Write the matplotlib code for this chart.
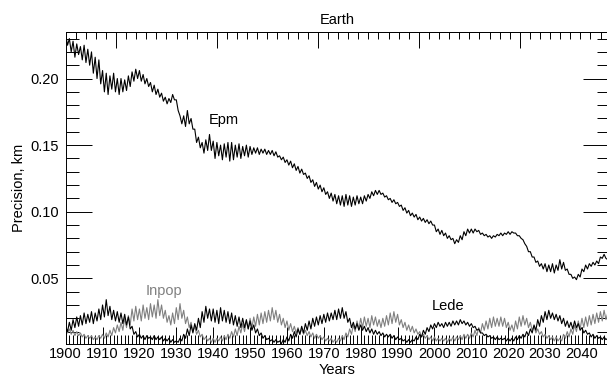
import numpy as np
import matplotlib.pyplot as plt
from matplotlib.ticker import MultipleLocator, NullFormatter

plt.rcParams['font.family'] = ['Liberation Sans', 'DejaVu Sans']
plt.rcParams['font.size'] = 10.5

# --- Dane, co pol roku, w metrach ---
years = np.arange(1900, 2047.01, 0.5)

epm_m = [
    233, 225, 230, 220, 228, 216, 226, 218, 224, 214,
    225, 212, 222, 210, 220, 204, 216, 200, 214, 196,
    206, 190, 204, 188, 202, 192, 204, 190, 200, 188,
    200, 190, 199, 191, 202, 194, 205, 198, 207, 200,
    206, 198, 203, 196, 200, 194, 197, 190, 195, 188,
    192, 186, 189, 183, 186, 181, 185, 182, 188, 184,
    184, 176, 172, 166, 172, 164, 176, 166, 170, 162,
    162, 152, 156, 148, 152, 144, 154, 146, 158, 146,
    153, 140, 152, 142, 150, 139, 151, 141, 152, 138,
    152, 139, 150, 141, 151, 140, 149, 142, 150, 141,
    149, 143, 148, 144, 148, 143, 147, 144, 147, 143,
    146, 143, 146, 142, 145, 141, 142, 139, 141, 137,
    139, 135, 138, 133, 136, 131, 134, 129, 132, 128,
    129, 125, 127, 122, 124, 119, 122, 117, 120, 115,
    118, 113, 115, 110, 114, 108, 113, 106, 112, 105,
    112, 104, 113, 105, 112, 104, 111, 105, 112, 106,
    111, 106, 112, 108, 113, 110, 115, 112, 116, 113,
    116, 113, 114, 111, 112, 109, 110, 107, 109, 106,
    107, 104, 105, 101, 103, 99, 101, 97, 99, 96,
    98, 94, 96, 93, 95, 92, 94, 91, 93, 90,
    90, 85, 87, 83, 86, 82, 84, 80, 82, 79,
    80, 76, 79, 77, 82, 79, 85, 82, 87, 84,
    87, 84, 87, 85, 86, 83, 84, 82, 83, 81,
    82, 80, 82, 81, 83, 82, 84, 82, 84, 83,
    85, 83, 85, 84, 84, 82, 82, 80, 79, 76,
    74, 70, 70, 66, 66, 62, 63, 59, 61, 57,
    61, 55, 60, 55, 61, 54, 60, 56, 64, 57,
    62, 56, 57, 53, 53, 50, 51, 49, 53, 51,
    57, 55, 60, 57, 61, 59, 62, 60, 63, 61,
    66, 65, 68, 65, 64,
]

lede_m = [
    14, 10, 17, 11, 19, 13, 21, 14, 22, 15,
    24, 16, 23, 17, 25, 16, 24, 18, 27, 19,
    30, 21, 34, 22, 29, 19, 26, 18, 25, 17,
    24, 16, 23, 15, 21, 12, 14, 8, 10, 6,
    8, 5, 7, 4, 7, 5, 6, 4, 7, 4,
    6, 4, 6, 3, 5, 3, 5, 2, 4, 2,
    3, 2, 5, 3, 8, 5, 12, 7, 15, 9,
    16, 11, 20, 13, 25, 17, 29, 20, 27, 18,
    27, 17, 26, 16, 28, 18, 26, 17, 25, 16,
    24, 15, 22, 14, 21, 13, 20, 13, 19, 12,
    18, 11, 15, 9, 12, 7, 9, 5, 7, 4,
    5, 3, 4, 2, 4, 2, 3, 1, 4, 2,
    6, 3, 8, 5, 10, 6, 12, 8, 14, 9,
    16, 11, 18, 12, 20, 14, 21, 15, 22, 16,
    23, 17, 24, 18, 24, 19, 26, 19, 27, 20,
    28, 20, 25, 17, 20, 13, 17, 12, 16, 11,
    15, 11, 14, 10, 13, 9, 12, 8, 11, 8,
    10, 7, 9, 6, 8, 6, 8, 5, 7, 4,
    6, 4, 5, 3, 4, 2, 4, 2, 4, 3,
    6, 4, 8, 6, 11, 8, 13, 10, 15, 12,
    16, 13, 17, 14, 16, 13, 17, 14, 17, 14,
    18, 15, 18, 15, 19, 16, 18, 15, 17, 14,
    16, 13, 14, 11, 12, 9, 9, 7, 8, 6,
    7, 5, 6, 4, 6, 4, 5, 4, 5, 3,
    5, 3, 5, 3, 6, 4, 7, 5, 8, 6,
    10, 7, 12, 9, 15, 11, 19, 14, 22, 17,
    25, 19, 26, 20, 24, 19, 23, 18, 22, 16,
    20, 14, 18, 13, 17, 12, 18, 13, 16, 11,
    13, 9, 11, 8, 9, 6, 8, 5, 7, 5,
    6, 4, 6, 4, 5,
]

inpop_m = [
    13, 9, 12, 8, 11, 7, 10, 7, 9, 6,
    8, 5, 7, 5, 7, 4, 6, 4, 7, 5,
    8, 5, 9, 6, 11, 7, 13, 9, 15, 10,
    17, 11, 20, 13, 22, 15, 27, 18, 29, 19,
    27, 18, 30, 20, 28, 19, 31, 21, 30, 20,
    34, 22, 30, 20, 26, 17, 22, 15, 24, 16,
    28, 19, 31, 20, 26, 16, 21, 13, 17, 10,
    14, 8, 11, 6, 8, 4, 6, 3, 5, 2,
    5, 2, 5, 3, 6, 3, 7, 4, 8, 5,
    10, 6, 12, 7, 14, 9, 16, 10, 18, 12,
    20, 13, 21, 14, 23, 15, 24, 16, 25, 17,
    26, 18, 28, 19, 26, 17, 23, 15, 20, 13,
    18, 11, 16, 10, 14, 9, 13, 8, 12, 8,
    11, 7, 10, 6, 9, 5, 8, 5, 7, 4,
    6, 3, 5, 3, 5, 2, 4, 2, 5, 3,
    7, 4, 9, 6, 12, 8, 15, 10, 18, 12,
    20, 13, 21, 14, 20, 13, 22, 15, 21, 14,
    19, 13, 20, 14, 22, 15, 24, 16, 25, 17,
    23, 15, 19, 13, 17, 11, 15, 10, 14, 9,
    12, 8, 10, 6, 8, 5, 7, 4, 6, 3,
    6, 3, 5, 3, 5, 3, 5, 2, 5, 3,
    6, 3, 6, 4, 7, 4, 8, 5, 8, 5,
    9, 6, 11, 7, 13, 9, 16, 11, 18, 12,
    20, 13, 21, 14, 20, 14, 21, 14, 20, 13,
    17, 11, 15, 10, 18, 12, 21, 14, 22, 15,
    20, 13, 17, 11, 14, 9, 12, 8, 10, 6,
    8, 5, 7, 4, 6, 3, 6, 3, 5, 3,
    8, 5, 10, 6, 12, 8, 15, 10, 18, 12,
    20, 13, 21, 14, 22, 15, 23, 16, 24, 17,
    25, 18, 26, 19, 24,
]

# metry -> km
epm = np.array(epm_m) / 1000.0
lede = np.array(lede_m) / 1000.0
inpop = np.array(inpop_m) / 1000.0


def year_to_jd(y):
    return 2415020.5 + (y - 1900.0) * 365.25


def jd_to_year(jd):
    return 1900.0 + (jd - 2415020.5) / 365.25


fig = plt.figure(figsize=(6.07, 3.81), dpi=100)
ax = fig.add_axes([0.1082, 0.0971, 0.8943, 0.8181])

# --- Krzywe ---
ax.plot(years, inpop, color='#808080', lw=0.8)
ax.plot(years, lede, color='black', lw=0.8)
ax.plot(years, epm, color='black', lw=0.8)

ax.text(1943, 0.169, 'Epm', ha='center', va='center', color='black')
ax.text(1926.7, 0.0405, 'Inpop', ha='center', va='center', color='#808080')
ax.text(2003.8, 0.0292, 'Lede', ha='center', va='center', color='black')

ax.set_xlim(1900, 2047.2)
ax.set_ylim(0.0007, 0.2347)
ax.set_title('Earth', fontsize=10.5, pad=6)
ax.set_xlabel('Years', labelpad=1)
ax.set_ylabel('Precision, km', labelpad=3)

# --- Osie / ticki ---
ax.xaxis.set_major_locator(MultipleLocator(10))
ax.xaxis.set_minor_locator(MultipleLocator(1))
ax.yaxis.set_major_locator(MultipleLocator(0.05))
ax.yaxis.set_minor_locator(MultipleLocator(0.01))
ax.yaxis.set_major_formatter(plt.FormatStrFormatter('%.2f'))

ax.tick_params(axis='x', which='major', direction='in', length=12, width=0.7, pad=2.5, top=False)
ax.tick_params(axis='x', which='minor', direction='in', length=6.5, width=0.7, top=False)
ax.tick_params(axis='y', which='major', direction='in', length=19, width=0.7, pad=5, right=True)
ax.tick_params(axis='y', which='minor', direction='in', length=9, width=0.7, right=True)

for s in ax.spines.values():
    s.set_linewidth(0.7)

# gorna os w dniach juliańskich (bez podpisow)
top = ax.secondary_xaxis('top', functions=(year_to_jd, jd_to_year))
top.xaxis.set_major_locator(MultipleLocator(10000))
top.xaxis.set_minor_locator(MultipleLocator(1000))
top.xaxis.set_major_formatter(NullFormatter())
top.tick_params(which='major', direction='in', length=11.5, width=0.7)
top.tick_params(which='minor', direction='in', length=5, width=0.7)
top.spines['top'].set_linewidth(0.7)

fig.savefig('out.png', dpi=100)
